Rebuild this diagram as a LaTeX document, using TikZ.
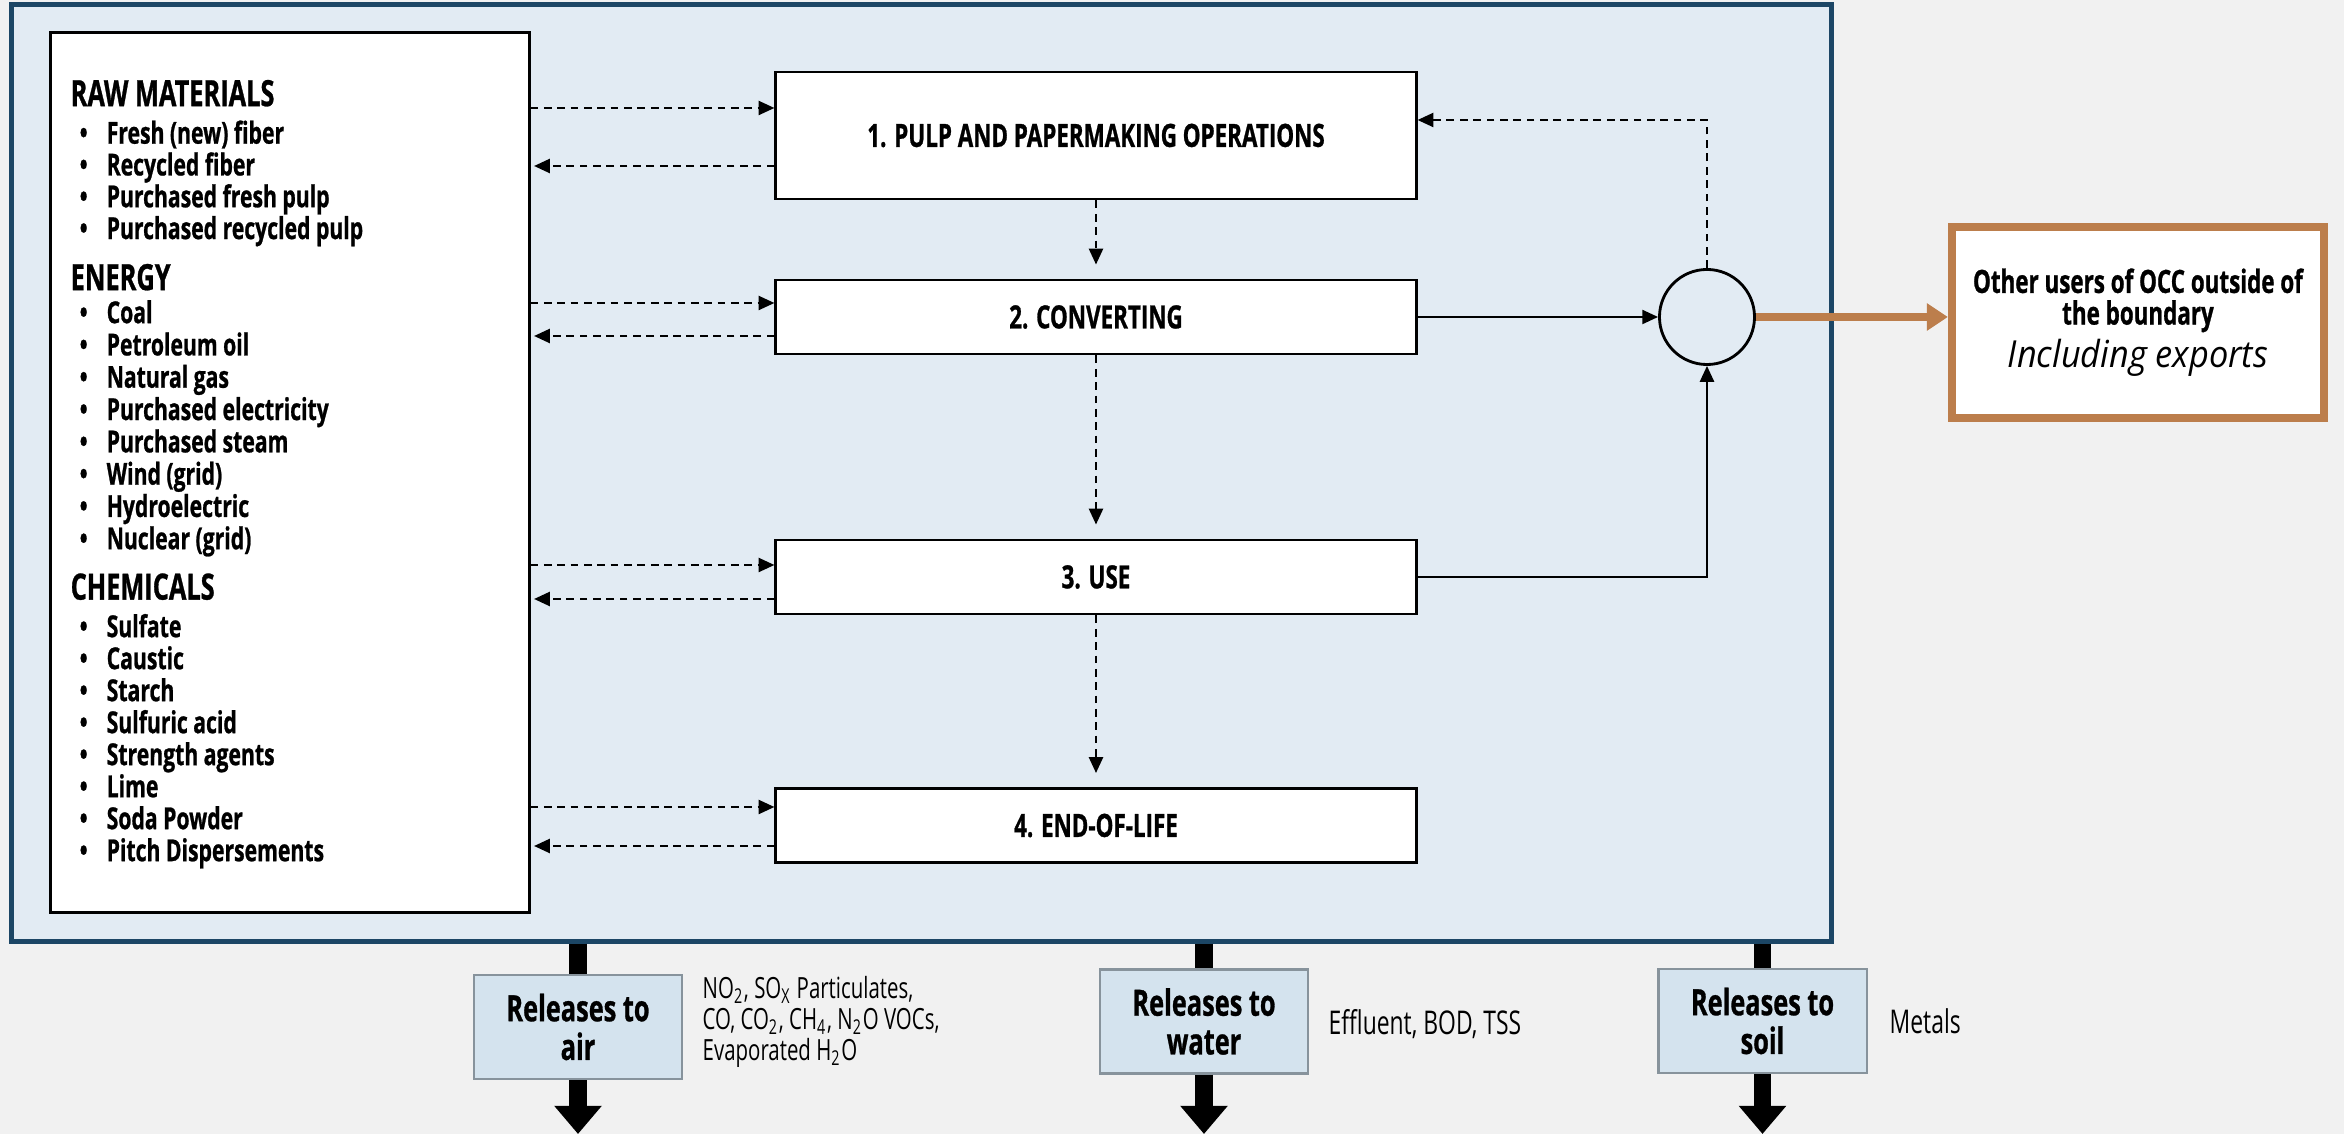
\documentclass[tikz,border=0pt]{standalone}
\usepackage{fontspec}
\setmainfont{Open Sans}[FakeStretch=0.7, BoldFeatures={FakeBold=0.8}]
\newfontfamily\wideit{Open Sans}[FakeStretch=0.92]
\usepackage{tikz}
\usetikzlibrary{arrows.meta, positioning, shapes}
\definecolor{bgGrey}{HTML}{F1F1F1}
\definecolor{bndFill}{HTML}{E2EBF3}
\definecolor{bndLine}{HTML}{1C4665}
\definecolor{occBrown}{HTML}{BC7E4C}
\definecolor{relFill}{HTML}{D4E3EE}
\definecolor{relLine}{HTML}{87939C}

\tikzset{
  proc/.style={draw, fill=white, line width=0.8pt, minimum width=6.4cm, minimum height=0.74cm, font=\bfseries\fontsize{9.1}{10}\selectfont},
  rel/.style={draw=relLine, fill=relFill, line width=0.6pt, minimum width=2.08cm, minimum height=1.04cm, align=center, font=\bfseries\fontsize{10.3}{11}\selectfont},
  item/.style={anchor=west, inner sep=0pt, text height=0.72em, text depth=0.2em, font=\bfseries\fontsize{8.6}{9}\selectfont},
  head/.style={anchor=west, inner sep=0pt, text height=0.72em, text depth=0.2em, font=\bfseries\fontsize{10.3}{11}\selectfont},
  note/.style={anchor=west, inner sep=0pt, align=left, font=\fontsize{8.3}{8.9}\selectfont},
  dflow/.style={dashed, dash pattern=on 2.2pt off 1.6pt, line width=0.6pt, -{Triangle[length=4.5pt,width=4pt]}},
  sflow/.style={line width=0.6pt, -{Triangle[length=4.5pt,width=4pt]}},
  bar/.style={line width=5pt},
  outflow/.style={line width=5pt, -{Triangle[length=8pt,width=13pt]}},
}

\begin{document}
\begin{tikzpicture}[x=0.01cm, y=-0.01cm]
  \useasboundingbox (0,0) rectangle (2344,1134);
  \fill[bgGrey] (0,0) rectangle (2344,1134);

  % 系统边界
  \node[draw=bndLine, fill=bndFill, line width=1.4pt, minimum width=18.19cm, minimum height=9.36cm, inner sep=0pt] (bound) at (921.5,473) {};

  % 输入清单
  \node[draw, fill=white, line width=0.8pt, minimum width=4.78cm, minimum height=8.79cm] (src) at (290,472.5) {};
  \node[head] (hraw) at (70,97) {RAW MATERIALS};
  \foreach \t [count=\i] in {Fresh (new) fiber, Recycled fiber, Purchased fresh pulp, Purchased recycled pulp}
    \node[item] (raw\i) at (79,{134.5+31.8*(\i-1)}) {\makebox[0.27cm][l]{•}\t};
  \node[head] (hen) at (70,281) {ENERGY};
  \foreach \t [count=\i] in {Coal, Petroleum oil, Natural gas, Purchased electricity, Purchased steam, Wind (grid), Hydroelectric, Nuclear (grid)}
    \node[item] (en\i) at (79,{314+32.3*(\i-1)}) {\makebox[0.27cm][l]{•}\t};
  \node[head] (hchem) at (70,590.5) {CHEMICALS};
  \foreach \t [count=\i] in {Sulfate, Caustic, Starch, Sulfuric acid, Strength agents, Lime, Soda Powder, Pitch Dispersements}
    \node[item] (chem\i) at (79,{628+32*(\i-1)}) {\makebox[0.27cm][l]{•}\t};

  % 生命周期阶段
  \node[proc, minimum height=1.27cm] (p1) at (1096,135.5) {1. PULP AND PAPERMAKING OPERATIONS};
  \node[proc] (p2) at (1096,317) {2. CONVERTING};
  \node[proc] (p3) at (1096,577) {3. USE};
  \node[proc] (p4) at (1096,825.5) {4. END-OF-LIFE};
  \node[draw, circle, line width=0.8pt, minimum size=0.95cm, inner sep=0pt] (mix) at (1707,317) {};

  \foreach \b/\yin/\yout in {p1/108/166, p2/303/336, p3/565/599, p4/807/846} {
    \draw[dflow] (src.east |- 0,\yin) -- (\b.west |- 0,\yin);
    \draw[dflow, shorten >=1pt] (\b.west |- 0,\yout) -- (src.east |- 0,\yout);
  }
  \draw[dflow, shorten >=4pt] (p1) -- (p2);
  \draw[dflow, shorten >=4pt] (p2) -- (p3);
  \draw[dflow, shorten >=4pt] (p3) -- (p4);
  \draw[sflow] (p2.east) -- (mix.west);
  \draw[sflow] (p3.east) -| (mix.south);
  \draw[dflow] (mix.north) |- (p1.east |- 0,120);

  % 边界外
  \node[draw=occBrown, fill=white, line width=2.3pt, minimum width=3.72cm, minimum height=1.91cm, align=center, font=\bfseries\fontsize{9.1}{9}\selectfont] (occ) at (2138,322.5) {Other users of OCC outside of\\the boundary\\[1pt]{\wideit\mdseries\itshape\fontsize{10.6}{9}\selectfont Including exports}};
  \draw[occBrown, line width=2.3pt, -{Triangle[length=6pt,width=7.5pt]}] (mix.east) -- (mix.east -| occ.west);

  % 排放
  \node[rel] (air) at (578,1027) {Releases to\\air};
  \node[rel] (water) at (1204,1021.5) {Releases to\\water};
  \node[rel] (soil) at (1762.5,1021) {Releases to\\soil};
  \foreach \r in {air, water, soil} {
    \draw[bar] (\r.north |- bound.south) -- (\r.north);
    \draw[outflow] (\r.south) -- (\r.south |- 0,1134);
  }
  \node[note] (airtxt) at (702,1022) {NO\textsubscript{2}, SO\textsubscript{X} Particulates,\\CO, CO\textsubscript{2}, CH\textsubscript{4}, N\textsubscript{2}O VOCs,\\Evaporated H\textsubscript{2}O};
  \node[note, font=\fontsize{9.3}{10}\selectfont] (watertxt) at (1328,1024) {Effluent, BOD, TSS};
  \node[note, font=\fontsize{9.3}{10}\selectfont] (soiltxt) at (1889,1021) {Metals};
\end{tikzpicture}
\end{document}
